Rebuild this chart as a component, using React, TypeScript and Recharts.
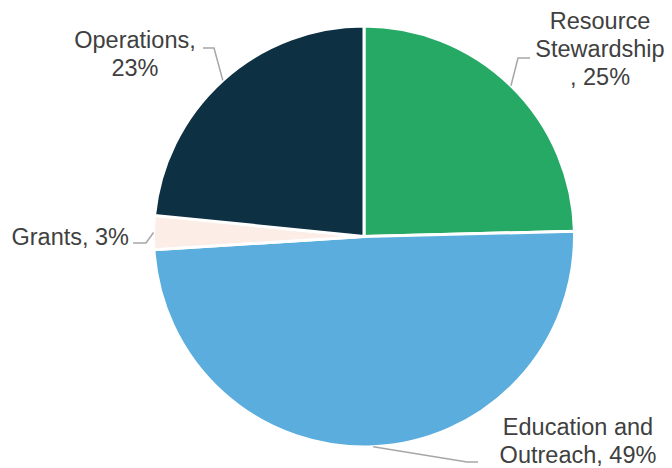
import React from 'react';
import { PieChart, Pie, Cell } from 'recharts';

const categories = ['Resource Stewardship', 'Education and Outreach', 'Grants', 'Operations'];
const shares = [24.6, 49.4, 2.6, 23.4];
const labelLines = [
  ['Resource', 'Stewardship', ', 25%'],
  ['Education and', 'Outreach, 49%'],
  ['Grants, 3%'],
  ['Operations,', '23%'],
];
const colors = ['#25A965', '#5AADDD', '#FCEDE6', '#0D3042'];

// elbow / end of leader line and text block placement, relative to chart
const layout = [
  { elbow: [518, 58], end: [530, 58], tx: 600, ty: 29, anchor: 'middle' },
  { elbow: [467, 462], end: [478, 462], tx: 578, ty: 435, anchor: 'middle' },
  { elbow: [146, 243], end: [133, 243], tx: 129, ty: 245, anchor: 'end' },
  { elbow: [214, 48], end: [203, 48], tx: 135, ty: 48, anchor: 'middle' },
];

const data = categories.map((name, i) => ({ name, value: shares[i] }));

const RADIAN = Math.PI / 180;

const renderLabel = ({ cx, cy, midAngle, outerRadius, index }) => {
  const x = cx + outerRadius * Math.cos(-midAngle * RADIAN);
  const y = cy + outerRadius * Math.sin(-midAngle * RADIAN);
  const l = layout[index];
  return (
    <g key={`label-${index}`}>
      <polyline
        points={`${x},${y} ${l.elbow[0]},${l.elbow[1]} ${l.end[0]},${l.end[1]}`}
        fill="none"
        stroke="#A6A6A6"
        strokeWidth={1.5}
      />
      <text
        x={l.tx}
        y={l.ty}
        textAnchor={l.anchor}
        fill="#404040"
        style={{ fontFamily: 'Liberation Sans, Arial, sans-serif', fontSize: '23.5px' }}
      >
        {labelLines[index].map((line, j) => (
          <tspan key={j} x={l.tx} y={l.ty + j * 28}>
            {line}
          </tspan>
        ))}
      </text>
    </g>
  );
};

export default function App() {
  return (
    <div style={{ position: 'absolute', left: 0, top: 0, background: '#fff' }}>
      <PieChart width={672} height={468} margin={{ top: 0, right: 0, bottom: 0, left: 0 }}>
        <Pie
          data={data}
          dataKey="value"
          nameKey="name"
          cx={364}
          cy={236.5}
          outerRadius={210.5}
          startAngle={90}
          endAngle={-270}
          stroke="#fff"
          strokeWidth={3}
          label={renderLabel}
          labelLine={false}
          isAnimationActive={false}
        >
          {data.map((d, i) => (
            <Cell key={d.name} fill={colors[i]} />
          ))}
        </Pie>
      </PieChart>
    </div>
  );
}
